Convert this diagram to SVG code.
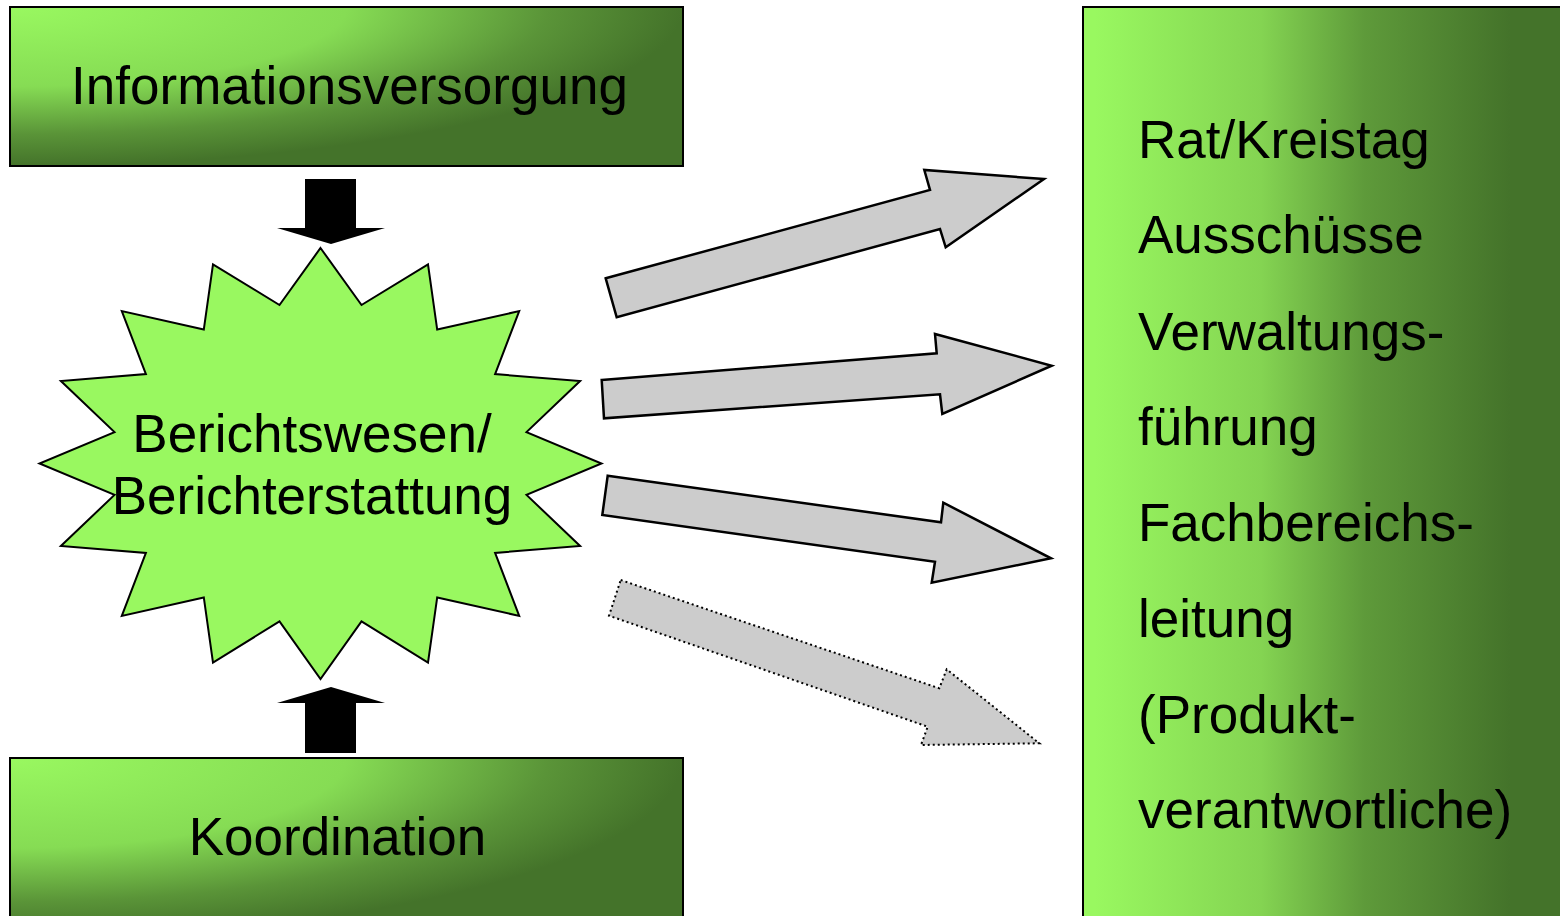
<svg xmlns="http://www.w3.org/2000/svg" width="1560" height="916" viewBox="0 0 1560 916">
  <defs>
    <radialGradient id="gBox" cx="0" cy="0" r="1" fx="0" fy="0" gradientUnits="objectBoundingBox">
      <stop offset="0" stop-color="#99f860"/>
      <stop offset="0.5" stop-color="#86dc54"/>
      <stop offset="0.8" stop-color="#5a9438"/>
      <stop offset="1" stop-color="#44732a"/>
    </radialGradient>
    <linearGradient id="gRight" gradientUnits="userSpaceOnUse" x1="1095" y1="0" x2="1510" y2="0">
      <stop offset="0" stop-color="#99f860"/>
      <stop offset="0.4" stop-color="#84d452"/>
      <stop offset="0.65" stop-color="#5e9a3a"/>
      <stop offset="1" stop-color="#44732a"/>
    </linearGradient>
  </defs>
  <style>
    .box { stroke: #000; stroke-width: 2; }
    .txt { font-family: "Liberation Sans", Arial, sans-serif; font-size: 53px; fill: #000; }
    .big { stroke: #000; stroke-width: 2.5; fill: #cccccc; stroke-linejoin: miter; }
    .dot { stroke: #000; stroke-width: 2; fill: #cccccc; stroke-dasharray: 2 3; }
    .blk { fill: #000; }
  </style>
  <rect width="1560" height="916" fill="#ffffff"/>

  <g id="informationsversorgung">
    <rect class="box" x="10" y="7" width="673" height="159" fill="url(#gBox)"/>
    <text class="txt" x="349.5" y="104" text-anchor="middle">Informationsversorgung</text>
  </g>

  <g id="koordination">
    <rect class="box" x="10" y="758" width="673" height="180" fill="url(#gBox)"/>
    <text class="txt" x="337.5" y="855" text-anchor="middle">Koordination</text>
  </g>

  <g id="berichtswesen">
    <polygon class="box" fill="#99f860" points="320.5,248 361.5,305 428,264.4 437.2,329.6 519.2,311.1 495.1,374.1 580.1,381 526.5,432.1 601.5,463.5 526.5,494.9 580.1,546 495.1,552.9 519.2,615.9 437.2,597.4 428,662.6 361.5,621.4 320.5,679 279.5,621.4 213,662.6 203.8,597.4 121.8,615.9 145.9,552.9 60.9,546 114.5,494.9 39.5,463.5 114.5,432.1 60.9,381 145.9,374.1 121.8,311.1 203.8,329.6 213,264.4 279.5,305"/>
    <text class="txt" x="312" y="452" text-anchor="middle">Berichtswesen/</text>
    <text class="txt" x="312" y="514" text-anchor="middle">Berichterstattung</text>
  </g>

  <g id="empfaenger">
    <rect class="box" x="1083" y="7" width="500" height="930" fill="url(#gRight)"/>
    <text class="txt" x="1138" y="158">Rat/Kreistag</text>
    <text class="txt" x="1138" y="253">Ausschüsse</text>
    <text class="txt" x="1138" y="350">Verwaltungs-</text>
    <text class="txt" x="1138" y="445">führung</text>
    <text class="txt" x="1138" y="541">Fachbereichs-</text>
    <text class="txt" x="1138" y="637">leitung</text>
    <text class="txt" x="1138" y="733">(Produkt-</text>
    <text class="txt" x="1138" y="828">verantwortliche)</text>
  </g>

  <g id="connectors">
    <polygon class="blk" points="305,179 356,179 356,228 385,228 331,244 277,228 305,228"/>
    <polygon class="blk" points="305,753 356,753 356,703 385,703 331,687 277,703 305,703"/>
    <polygon class="big" points="605.7,278.3 930,190 924.3,170 1044,179 945.7,247.3 940,229 616.7,317.3"/>
    <polygon class="big" points="601.7,380 936.7,353.3 935,334 1051.7,365.7 942.3,414 940,394.3 604,418.3"/>
    <polygon class="big" points="607.7,475.7 941,522.3 943.3,502.7 1051,558.3 931.7,582.7 935,561.7 602.3,515"/>
    <polygon class="dot" points="620.7,580 939.3,688.3 946.7,669.3 1039.3,743.3 921,745 927.7,726.7 609,615.7"/>
  </g>
</svg>
